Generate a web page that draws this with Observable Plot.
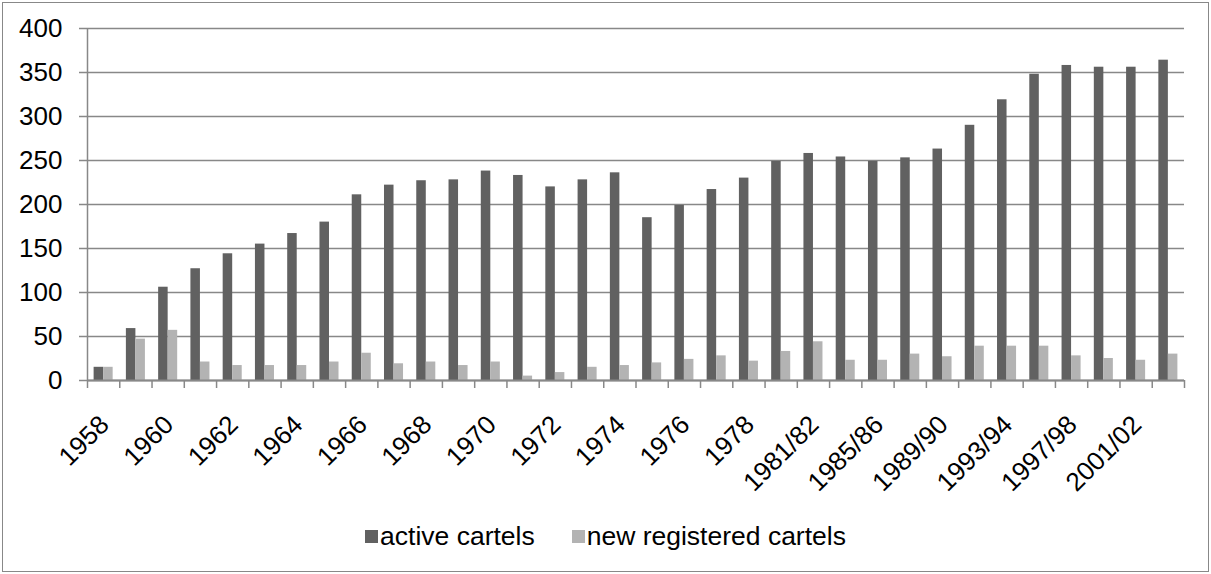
<!DOCTYPE html>
<html>
<head>
<meta charset="utf-8">
<script src="https://cdn.jsdelivr.net/npm/d3@7"></script>
<script src="https://cdn.jsdelivr.net/npm/@observablehq/plot@0.6"></script>
<style>
  body { margin: 0; background: #fff; font-family: "Liberation Sans", Arial, sans-serif; }
  #wrap { position: relative; width: 1211px; height: 574px; }
  #frame { position: absolute; left: 2px; top: 2px; width: 1207px; height: 570px; box-sizing: border-box; border: 1.5px solid #888; }
  #chart { position: absolute; left: 0; top: 0; }
  #legend { position: absolute; left: 0; width: 1211px; top: 521px; display: flex; justify-content: center; align-items: center; font-size: 26.5px; color: #000; }
  .item { display: flex; align-items: center; }
  .sw { width: 13px; height: 13px; margin-right: 2px; }
</style>
</head>
<body>
<div id="wrap">
  <div id="frame"></div>
  <div id="chart"></div>
  <div id="legend"></div>
</div>
<script>
const categories = ["1958","1959","1960","1961","1962","1963","1964","1965","1966","1967","1968","1969","1970","1971","1972","1973","1974","1975","1976","1977","1978","1979/80","1981/82","1983/84","1985/86","1987/88","1989/90","1991/92","1993/94","1995/96","1997/98","1999/2000","2001/02","2003/04"];
const activeCartels = [15,59,106,127,144,155,167,180,211,222,227,228,238,233,220,228,236,185,199,217,230,249,258,254,249,253,263,290,319,348,358,356,356,364];
const newRegistered = [15,47,57,21,17,17,17,21,31,19,21,17,21,5,9,15,17,20,24,28,22,33,44,23,23,30,27,39,39,39,28,25,23,30];
const yTicks = [0,50,100,150,200,250,300,350,400];
const seriesNames = ["active cartels", "new registered cartels"];
const seriesColors = ["#616161", "#b3b3b3"];

const idx = categories.map((c, i) => i);
const labelIdx = idx.filter(i => i % 2 === 0);

const plot = Plot.plot({
  width: 1211,
  height: 500,
  marginLeft: 87,
  marginRight: 27,
  marginTop: 28,
  marginBottom: 120,
  style: { fontFamily: "'Liberation Sans', Arial, sans-serif", fontSize: "26px", color: "#000", background: "transparent" },
  x: { type: "linear", domain: [0, categories.length], axis: null },
  y: { domain: [0, 400], axis: null },
  marks: [
    Plot.ruleY(yTicks, { x1: 0, x2: categories.length, insetLeft: -8, stroke: "#888", strokeWidth: 1.5 }),
    Plot.text(yTicks, { x: 0, y: d => d, text: d => String(d), textAnchor: "end", dx: -25, fontSize: 26, fill: "#000" }),
    Plot.rectY(idx, { x1: i => i + 0.205, x2: i => i + 0.5, y: i => activeCartels[i], fill: seriesColors[0] }),
    Plot.rectY(idx, { x1: i => i + 0.5, x2: i => i + 0.795, y: i => newRegistered[i], fill: seriesColors[1] }),
    Plot.ruleX([0], { y1: 0, y2: 400, stroke: "#888", strokeWidth: 1.5 }),
    Plot.ruleY([0], { x1: 0, x2: categories.length, stroke: "#888", strokeWidth: 2 }),
    Plot.ruleX(d3.range(categories.length + 1), { y1: 0, y2: 0, insetBottom: -8, stroke: "#888", strokeWidth: 1.5 }),
    Plot.text(labelIdx, { x: i => i + 0.5, y: 0, text: i => categories[i], rotate: -45, textAnchor: "end", dy: 40, dx: 1, fontSize: 26, fill: "#000" })
  ]
});
document.getElementById("chart").appendChild(plot);

const legend = document.getElementById("legend");
seriesNames.forEach((name, k) => {
  const it = document.createElement("div");
  it.className = "item";
  it.style.marginRight = k === 0 ? "37px" : "0";
  const sw = document.createElement("div");
  sw.className = "sw";
  sw.style.background = seriesColors[k];
  const tx = document.createElement("span");
  tx.textContent = name;
  it.appendChild(sw); it.appendChild(tx);
  legend.appendChild(it);
});
</script>
</body>
</html>
